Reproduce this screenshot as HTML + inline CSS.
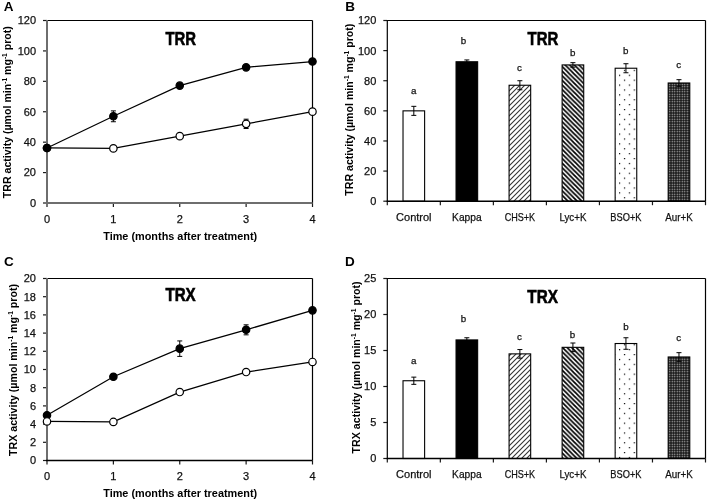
<!DOCTYPE html>
<html><head><meta charset="utf-8"><title>TRR / TRX activity</title>
<style>html,body{margin:0;padding:0;background:#fff;width:708px;height:502px;overflow:hidden;font-family:"Liberation Sans", sans-serif;}</style>
</head><body>
<svg width="708" height="502" viewBox="0 0 708 502" style="display:block;filter:grayscale(1)" font-family="Liberation Sans, sans-serif">
<defs>
<pattern id="hatchUp" patternUnits="userSpaceOnUse" width="5" height="5" patternTransform="rotate(0)">
<path d="M-1,1 l2,-2 M0,5 l5,-5 M4,6 l2,-2" stroke="#333" stroke-width="1.1"/>
</pattern>
<pattern id="hatchDn" patternUnits="userSpaceOnUse" width="4.6" height="4.6" y="1.2">
<path d="M-1.15,3.45 l2.3,2.3 M0,0 l4.6,4.6 M3.45,-1.15 l2.3,2.3" stroke="#000" stroke-width="1.7"/>
</pattern>
<pattern id="dots" patternUnits="userSpaceOnUse" width="9.8" height="9.8" x="619" y="123.7">
<rect x="0" y="0" width="1.2" height="1.2" fill="#000"/>
<rect x="4.9" y="4.9" width="1.2" height="1.2" fill="#000"/>
</pattern>
<pattern id="grid" patternUnits="userSpaceOnUse" width="2.5" height="2.5" x="668.5" y="83">
<rect width="2.5" height="2.5" fill="#080808"/>
<rect x="0.55" y="0.55" width="1.4" height="1.4" fill="#bdbdbd"/>
</pattern>
</defs>
<rect width="708" height="502" fill="#fff"/>
<text x="3.80" y="11.20" font-size="13.5" text-anchor="start" font-weight="bold" fill="#000" >A</text>
<text x="345.20" y="11.20" font-size="13.5" text-anchor="start" font-weight="bold" fill="#000" >B</text>
<text x="4.00" y="266.20" font-size="13.5" text-anchor="start" font-weight="bold" fill="#000" >C</text>
<text x="345.00" y="266.20" font-size="13.5" text-anchor="start" font-weight="bold" fill="#000" >D</text>
<line x1="47.00" y1="20.50" x2="312.50" y2="20.50" stroke="#000" stroke-width="1.2"/>
<line x1="312.50" y1="20.50" x2="312.50" y2="203.00" stroke="#000" stroke-width="1.2"/>
<line x1="43.00" y1="203.00" x2="47.00" y2="203.00" stroke="#1a1a1a" stroke-width="1.2"/>
<text x="36.00" y="206.90" font-size="11" text-anchor="end" font-weight="normal" fill="#111" stroke="#111" stroke-width="0.25" >0</text>
<line x1="43.00" y1="172.58" x2="47.00" y2="172.58" stroke="#1a1a1a" stroke-width="1.2"/>
<text x="36.00" y="176.48" font-size="11" text-anchor="end" font-weight="normal" fill="#111" stroke="#111" stroke-width="0.25" >20</text>
<line x1="43.00" y1="142.17" x2="47.00" y2="142.17" stroke="#1a1a1a" stroke-width="1.2"/>
<text x="36.00" y="146.07" font-size="11" text-anchor="end" font-weight="normal" fill="#111" stroke="#111" stroke-width="0.25" >40</text>
<line x1="43.00" y1="111.75" x2="47.00" y2="111.75" stroke="#1a1a1a" stroke-width="1.2"/>
<text x="36.00" y="115.65" font-size="11" text-anchor="end" font-weight="normal" fill="#111" stroke="#111" stroke-width="0.25" >60</text>
<line x1="43.00" y1="81.33" x2="47.00" y2="81.33" stroke="#1a1a1a" stroke-width="1.2"/>
<text x="36.00" y="85.23" font-size="11" text-anchor="end" font-weight="normal" fill="#111" stroke="#111" stroke-width="0.25" >80</text>
<line x1="43.00" y1="50.92" x2="47.00" y2="50.92" stroke="#1a1a1a" stroke-width="1.2"/>
<text x="36.00" y="54.82" font-size="11" text-anchor="end" font-weight="normal" fill="#111" stroke="#111" stroke-width="0.25" >100</text>
<line x1="43.00" y1="20.50" x2="47.00" y2="20.50" stroke="#1a1a1a" stroke-width="1.2"/>
<text x="36.00" y="24.40" font-size="11" text-anchor="end" font-weight="normal" fill="#111" stroke="#111" stroke-width="0.25" >120</text>
<line x1="47.00" y1="203.00" x2="47.00" y2="207.00" stroke="#1a1a1a" stroke-width="1.2"/>
<text x="47.00" y="222.70" font-size="11" text-anchor="middle" font-weight="normal" fill="#111" stroke="#111" stroke-width="0.25" >0</text>
<line x1="113.38" y1="203.00" x2="113.38" y2="207.00" stroke="#1a1a1a" stroke-width="1.2"/>
<text x="113.38" y="222.70" font-size="11" text-anchor="middle" font-weight="normal" fill="#111" stroke="#111" stroke-width="0.25" >1</text>
<line x1="179.75" y1="203.00" x2="179.75" y2="207.00" stroke="#1a1a1a" stroke-width="1.2"/>
<text x="179.75" y="222.70" font-size="11" text-anchor="middle" font-weight="normal" fill="#111" stroke="#111" stroke-width="0.25" >2</text>
<line x1="246.12" y1="203.00" x2="246.12" y2="207.00" stroke="#1a1a1a" stroke-width="1.2"/>
<text x="246.12" y="222.70" font-size="11" text-anchor="middle" font-weight="normal" fill="#111" stroke="#111" stroke-width="0.25" >3</text>
<line x1="312.50" y1="203.00" x2="312.50" y2="207.00" stroke="#1a1a1a" stroke-width="1.2"/>
<text x="312.50" y="222.70" font-size="11" text-anchor="middle" font-weight="normal" fill="#111" stroke="#111" stroke-width="0.25" >4</text>
<line x1="47.00" y1="19.90" x2="47.00" y2="204.00" stroke="#6e6e6e" stroke-width="2"/>
<line x1="46.00" y1="203.00" x2="312.50" y2="203.00" stroke="#6e6e6e" stroke-width="2"/>
<polyline points="47.00,147.95 113.38,148.40 179.75,136.16 246.12,123.84 312.50,111.64" fill="none" stroke="#000" stroke-width="1.25"/>
<polyline points="47.00,147.95 113.38,116.31 179.75,85.59 246.12,67.34 312.50,61.56" fill="none" stroke="#000" stroke-width="1.25"/>
<circle cx="47.00" cy="147.95" r="3.7" fill="#fff" stroke="#000" stroke-width="1.2"/>
<circle cx="113.38" cy="148.40" r="3.7" fill="#fff" stroke="#000" stroke-width="1.2"/>
<circle cx="179.75" cy="136.16" r="3.7" fill="#fff" stroke="#000" stroke-width="1.2"/>
<line x1="246.12" y1="119.19" x2="246.12" y2="128.49" stroke="#000" stroke-width="1"/>
<line x1="243.62" y1="119.19" x2="248.62" y2="119.19" stroke="#000" stroke-width="1"/>
<line x1="243.62" y1="128.49" x2="248.62" y2="128.49" stroke="#000" stroke-width="1"/>
<circle cx="246.12" cy="123.84" r="3.7" fill="#fff" stroke="#000" stroke-width="1.2"/>
<circle cx="312.50" cy="111.64" r="3.7" fill="#fff" stroke="#000" stroke-width="1.2"/>
<circle cx="47.00" cy="147.95" r="3.7" fill="#000" stroke="#000" stroke-width="1.2"/>
<line x1="113.38" y1="110.88" x2="113.38" y2="121.74" stroke="#000" stroke-width="1"/>
<line x1="110.88" y1="110.88" x2="115.88" y2="110.88" stroke="#000" stroke-width="1"/>
<line x1="110.88" y1="121.74" x2="115.88" y2="121.74" stroke="#000" stroke-width="1"/>
<circle cx="113.38" cy="116.31" r="3.7" fill="#000" stroke="#000" stroke-width="1.2"/>
<circle cx="179.75" cy="85.59" r="3.7" fill="#000" stroke="#000" stroke-width="1.2"/>
<circle cx="246.12" cy="67.34" r="3.7" fill="#000" stroke="#000" stroke-width="1.2"/>
<circle cx="312.50" cy="61.56" r="3.7" fill="#000" stroke="#000" stroke-width="1.2"/>
<text x="165.40" y="44.60" font-size="18.2" text-anchor="start" font-weight="bold" fill="#000" textLength="30.6" lengthAdjust="spacingAndGlyphs" stroke="#000" stroke-width="0.6">TRR</text>
<text x="103.20" y="239.80" font-size="11" text-anchor="start" font-weight="bold" fill="#000" textLength="154" lengthAdjust="spacingAndGlyphs" >Time (months after treatment)</text>
<text transform="translate(10.80,112.20) rotate(-90)" x="0" y="0" font-size="11" font-weight="bold" text-anchor="middle" fill="#000" textLength="172" lengthAdjust="spacingAndGlyphs">TRR activity (µmol min<tspan font-size="6.8" dy="-4">-1</tspan><tspan dy="4"> mg</tspan><tspan font-size="6.8" dy="-4">-1</tspan><tspan dy="4"> prot)</tspan></text>
<line x1="47.00" y1="278.50" x2="312.50" y2="278.50" stroke="#000" stroke-width="1.2"/>
<line x1="312.50" y1="278.50" x2="312.50" y2="460.50" stroke="#000" stroke-width="1.2"/>
<line x1="43.00" y1="460.50" x2="47.00" y2="460.50" stroke="#1a1a1a" stroke-width="1.2"/>
<text x="36.00" y="464.40" font-size="11" text-anchor="end" font-weight="normal" fill="#111" stroke="#111" stroke-width="0.25" >0</text>
<line x1="43.00" y1="442.30" x2="47.00" y2="442.30" stroke="#1a1a1a" stroke-width="1.2"/>
<text x="36.00" y="446.20" font-size="11" text-anchor="end" font-weight="normal" fill="#111" stroke="#111" stroke-width="0.25" >2</text>
<line x1="43.00" y1="424.10" x2="47.00" y2="424.10" stroke="#1a1a1a" stroke-width="1.2"/>
<text x="36.00" y="428.00" font-size="11" text-anchor="end" font-weight="normal" fill="#111" stroke="#111" stroke-width="0.25" >4</text>
<line x1="43.00" y1="405.90" x2="47.00" y2="405.90" stroke="#1a1a1a" stroke-width="1.2"/>
<text x="36.00" y="409.80" font-size="11" text-anchor="end" font-weight="normal" fill="#111" stroke="#111" stroke-width="0.25" >6</text>
<line x1="43.00" y1="387.70" x2="47.00" y2="387.70" stroke="#1a1a1a" stroke-width="1.2"/>
<text x="36.00" y="391.60" font-size="11" text-anchor="end" font-weight="normal" fill="#111" stroke="#111" stroke-width="0.25" >8</text>
<line x1="43.00" y1="369.50" x2="47.00" y2="369.50" stroke="#1a1a1a" stroke-width="1.2"/>
<text x="36.00" y="373.40" font-size="11" text-anchor="end" font-weight="normal" fill="#111" stroke="#111" stroke-width="0.25" >10</text>
<line x1="43.00" y1="351.30" x2="47.00" y2="351.30" stroke="#1a1a1a" stroke-width="1.2"/>
<text x="36.00" y="355.20" font-size="11" text-anchor="end" font-weight="normal" fill="#111" stroke="#111" stroke-width="0.25" >12</text>
<line x1="43.00" y1="333.10" x2="47.00" y2="333.10" stroke="#1a1a1a" stroke-width="1.2"/>
<text x="36.00" y="337.00" font-size="11" text-anchor="end" font-weight="normal" fill="#111" stroke="#111" stroke-width="0.25" >14</text>
<line x1="43.00" y1="314.90" x2="47.00" y2="314.90" stroke="#1a1a1a" stroke-width="1.2"/>
<text x="36.00" y="318.80" font-size="11" text-anchor="end" font-weight="normal" fill="#111" stroke="#111" stroke-width="0.25" >16</text>
<line x1="43.00" y1="296.70" x2="47.00" y2="296.70" stroke="#1a1a1a" stroke-width="1.2"/>
<text x="36.00" y="300.60" font-size="11" text-anchor="end" font-weight="normal" fill="#111" stroke="#111" stroke-width="0.25" >18</text>
<line x1="43.00" y1="278.50" x2="47.00" y2="278.50" stroke="#1a1a1a" stroke-width="1.2"/>
<text x="36.00" y="282.40" font-size="11" text-anchor="end" font-weight="normal" fill="#111" stroke="#111" stroke-width="0.25" >20</text>
<line x1="47.00" y1="460.50" x2="47.00" y2="464.50" stroke="#1a1a1a" stroke-width="1.2"/>
<text x="47.00" y="480.20" font-size="11" text-anchor="middle" font-weight="normal" fill="#111" stroke="#111" stroke-width="0.25" >0</text>
<line x1="113.38" y1="460.50" x2="113.38" y2="464.50" stroke="#1a1a1a" stroke-width="1.2"/>
<text x="113.38" y="480.20" font-size="11" text-anchor="middle" font-weight="normal" fill="#111" stroke="#111" stroke-width="0.25" >1</text>
<line x1="179.75" y1="460.50" x2="179.75" y2="464.50" stroke="#1a1a1a" stroke-width="1.2"/>
<text x="179.75" y="480.20" font-size="11" text-anchor="middle" font-weight="normal" fill="#111" stroke="#111" stroke-width="0.25" >2</text>
<line x1="246.12" y1="460.50" x2="246.12" y2="464.50" stroke="#1a1a1a" stroke-width="1.2"/>
<text x="246.12" y="480.20" font-size="11" text-anchor="middle" font-weight="normal" fill="#111" stroke="#111" stroke-width="0.25" >3</text>
<line x1="312.50" y1="460.50" x2="312.50" y2="464.50" stroke="#1a1a1a" stroke-width="1.2"/>
<text x="312.50" y="480.20" font-size="11" text-anchor="middle" font-weight="normal" fill="#111" stroke="#111" stroke-width="0.25" >4</text>
<line x1="47.00" y1="277.90" x2="47.00" y2="461.50" stroke="#6e6e6e" stroke-width="2"/>
<line x1="46.00" y1="460.50" x2="312.50" y2="460.50" stroke="#000" stroke-width="1.4"/>
<polyline points="47.00,421.46 113.38,421.92 179.75,392.07 246.12,372.05 312.50,361.95" fill="none" stroke="#000" stroke-width="1.25"/>
<polyline points="47.00,415.18 113.38,376.78 179.75,348.66 246.12,329.82 312.50,310.35" fill="none" stroke="#000" stroke-width="1.25"/>
<circle cx="47.00" cy="415.18" r="3.7" fill="#000" stroke="#000" stroke-width="1.2"/>
<circle cx="113.38" cy="376.78" r="3.7" fill="#000" stroke="#000" stroke-width="1.2"/>
<line x1="179.75" y1="340.93" x2="179.75" y2="356.40" stroke="#000" stroke-width="1"/>
<line x1="177.25" y1="340.93" x2="182.25" y2="340.93" stroke="#000" stroke-width="1"/>
<line x1="177.25" y1="356.40" x2="182.25" y2="356.40" stroke="#000" stroke-width="1"/>
<circle cx="179.75" cy="348.66" r="3.7" fill="#000" stroke="#000" stroke-width="1.2"/>
<line x1="246.12" y1="324.82" x2="246.12" y2="334.83" stroke="#000" stroke-width="1"/>
<line x1="243.62" y1="324.82" x2="248.62" y2="324.82" stroke="#000" stroke-width="1"/>
<line x1="243.62" y1="334.83" x2="248.62" y2="334.83" stroke="#000" stroke-width="1"/>
<circle cx="246.12" cy="329.82" r="3.7" fill="#000" stroke="#000" stroke-width="1.2"/>
<circle cx="312.50" cy="310.35" r="3.7" fill="#000" stroke="#000" stroke-width="1.2"/>
<circle cx="47.00" cy="421.46" r="3.7" fill="#fff" stroke="#000" stroke-width="1.2"/>
<line x1="113.38" y1="419.19" x2="113.38" y2="424.65" stroke="#000" stroke-width="1"/>
<line x1="110.88" y1="419.19" x2="115.88" y2="419.19" stroke="#000" stroke-width="1"/>
<line x1="110.88" y1="424.65" x2="115.88" y2="424.65" stroke="#000" stroke-width="1"/>
<circle cx="113.38" cy="421.92" r="3.7" fill="#fff" stroke="#000" stroke-width="1.2"/>
<circle cx="179.75" cy="392.07" r="3.7" fill="#fff" stroke="#000" stroke-width="1.2"/>
<circle cx="246.12" cy="372.05" r="3.7" fill="#fff" stroke="#000" stroke-width="1.2"/>
<line x1="312.50" y1="359.22" x2="312.50" y2="364.68" stroke="#000" stroke-width="1"/>
<line x1="310.00" y1="359.22" x2="315.00" y2="359.22" stroke="#000" stroke-width="1"/>
<line x1="310.00" y1="364.68" x2="315.00" y2="364.68" stroke="#000" stroke-width="1"/>
<circle cx="312.50" cy="361.95" r="3.7" fill="#fff" stroke="#000" stroke-width="1.2"/>
<text x="165.40" y="300.80" font-size="18.2" text-anchor="start" font-weight="bold" fill="#000" textLength="30.3" lengthAdjust="spacingAndGlyphs" stroke="#000" stroke-width="0.6">TRX</text>
<text x="103.20" y="497.30" font-size="11" text-anchor="start" font-weight="bold" fill="#000" textLength="154" lengthAdjust="spacingAndGlyphs" >Time (months after treatment)</text>
<text transform="translate(16.80,370.00) rotate(-90)" x="0" y="0" font-size="11" font-weight="bold" text-anchor="middle" fill="#000" textLength="172" lengthAdjust="spacingAndGlyphs">TRX activity (µmol min<tspan font-size="6.8" dy="-4">-1</tspan><tspan dy="4"> mg</tspan><tspan font-size="6.8" dy="-4">-1</tspan><tspan dy="4"> prot)</tspan></text>
<line x1="387.30" y1="20.50" x2="705.50" y2="20.50" stroke="#000" stroke-width="1.2"/>
<line x1="705.50" y1="20.50" x2="705.50" y2="201.20" stroke="#000" stroke-width="1.2"/>
<line x1="383.30" y1="201.20" x2="387.30" y2="201.20" stroke="#1a1a1a" stroke-width="1.2"/>
<text x="376.30" y="205.10" font-size="11" text-anchor="end" font-weight="normal" fill="#111" stroke="#111" stroke-width="0.25" >0</text>
<line x1="383.30" y1="171.08" x2="387.30" y2="171.08" stroke="#1a1a1a" stroke-width="1.2"/>
<text x="376.30" y="174.98" font-size="11" text-anchor="end" font-weight="normal" fill="#111" stroke="#111" stroke-width="0.25" >20</text>
<line x1="383.30" y1="140.97" x2="387.30" y2="140.97" stroke="#1a1a1a" stroke-width="1.2"/>
<text x="376.30" y="144.87" font-size="11" text-anchor="end" font-weight="normal" fill="#111" stroke="#111" stroke-width="0.25" >40</text>
<line x1="383.30" y1="110.85" x2="387.30" y2="110.85" stroke="#1a1a1a" stroke-width="1.2"/>
<text x="376.30" y="114.75" font-size="11" text-anchor="end" font-weight="normal" fill="#111" stroke="#111" stroke-width="0.25" >60</text>
<line x1="383.30" y1="80.73" x2="387.30" y2="80.73" stroke="#1a1a1a" stroke-width="1.2"/>
<text x="376.30" y="84.63" font-size="11" text-anchor="end" font-weight="normal" fill="#111" stroke="#111" stroke-width="0.25" >80</text>
<line x1="383.30" y1="50.62" x2="387.30" y2="50.62" stroke="#1a1a1a" stroke-width="1.2"/>
<text x="376.30" y="54.52" font-size="11" text-anchor="end" font-weight="normal" fill="#111" stroke="#111" stroke-width="0.25" >100</text>
<line x1="383.30" y1="20.50" x2="387.30" y2="20.50" stroke="#1a1a1a" stroke-width="1.2"/>
<text x="376.30" y="24.40" font-size="11" text-anchor="end" font-weight="normal" fill="#111" stroke="#111" stroke-width="0.25" >120</text>
<line x1="387.30" y1="201.20" x2="387.30" y2="205.20" stroke="#1a1a1a" stroke-width="1.2"/>
<line x1="440.33" y1="201.20" x2="440.33" y2="205.20" stroke="#1a1a1a" stroke-width="1.2"/>
<line x1="493.37" y1="201.20" x2="493.37" y2="205.20" stroke="#1a1a1a" stroke-width="1.2"/>
<line x1="546.40" y1="201.20" x2="546.40" y2="205.20" stroke="#1a1a1a" stroke-width="1.2"/>
<line x1="599.43" y1="201.20" x2="599.43" y2="205.20" stroke="#1a1a1a" stroke-width="1.2"/>
<line x1="652.47" y1="201.20" x2="652.47" y2="205.20" stroke="#1a1a1a" stroke-width="1.2"/>
<line x1="705.50" y1="201.20" x2="705.50" y2="205.20" stroke="#1a1a1a" stroke-width="1.2"/>
<rect x="403.02" y="110.85" width="21.60" height="90.35" fill="#fff" stroke="#000" stroke-width="1.1"/>
<line x1="413.82" y1="106.33" x2="413.82" y2="115.37" stroke="#000" stroke-width="1"/>
<line x1="411.32" y1="106.33" x2="416.32" y2="106.33" stroke="#000" stroke-width="1"/>
<line x1="411.32" y1="115.37" x2="416.32" y2="115.37" stroke="#000" stroke-width="1"/>
<text x="413.82" y="220.50" font-size="11" text-anchor="middle" font-weight="normal" fill="#111" stroke="#111" stroke-width="0.25" textLength="35.5" lengthAdjust="spacingAndGlyphs" >Control</text>
<text x="413.82" y="94.00" font-size="9.8" text-anchor="middle" font-weight="normal" fill="#111" stroke="#111" stroke-width="0.25" >a</text>
<rect x="456.05" y="61.76" width="21.60" height="139.44" fill="#000" stroke="#000" stroke-width="1.1"/>
<line x1="466.85" y1="59.95" x2="466.85" y2="63.57" stroke="#000" stroke-width="1"/>
<line x1="464.35" y1="59.95" x2="469.35" y2="59.95" stroke="#000" stroke-width="1"/>
<line x1="464.35" y1="63.57" x2="469.35" y2="63.57" stroke="#000" stroke-width="1"/>
<text x="466.85" y="220.50" font-size="11" text-anchor="middle" font-weight="normal" fill="#111" stroke="#111" stroke-width="0.25" textLength="29.5" lengthAdjust="spacingAndGlyphs" >Kappa</text>
<text x="463.45" y="44.30" font-size="9.8" text-anchor="middle" font-weight="normal" fill="#111" stroke="#111" stroke-width="0.25" >b</text>
<rect x="509.08" y="85.25" width="21.60" height="115.95" fill="url(#hatchUp)" stroke="#000" stroke-width="1.1"/>
<line x1="519.88" y1="80.73" x2="519.88" y2="89.77" stroke="#000" stroke-width="1"/>
<line x1="517.38" y1="80.73" x2="522.38" y2="80.73" stroke="#000" stroke-width="1"/>
<line x1="517.38" y1="89.77" x2="522.38" y2="89.77" stroke="#000" stroke-width="1"/>
<text x="519.88" y="220.50" font-size="11" text-anchor="middle" font-weight="normal" fill="#111" stroke="#111" stroke-width="0.25" textLength="30.5" lengthAdjust="spacingAndGlyphs" >CHS+K</text>
<text x="519.38" y="71.30" font-size="9.8" text-anchor="middle" font-weight="normal" fill="#111" stroke="#111" stroke-width="0.25" >c</text>
<rect x="562.12" y="64.92" width="21.60" height="136.28" fill="url(#hatchDn)" stroke="#000" stroke-width="1.1"/>
<line x1="572.92" y1="62.66" x2="572.92" y2="67.18" stroke="#000" stroke-width="1"/>
<line x1="570.42" y1="62.66" x2="575.42" y2="62.66" stroke="#000" stroke-width="1"/>
<line x1="570.42" y1="67.18" x2="575.42" y2="67.18" stroke="#000" stroke-width="1"/>
<text x="572.92" y="220.50" font-size="11" text-anchor="middle" font-weight="normal" fill="#111" stroke="#111" stroke-width="0.25" textLength="27" lengthAdjust="spacingAndGlyphs" >Lyc+K</text>
<text x="572.62" y="55.50" font-size="9.8" text-anchor="middle" font-weight="normal" fill="#111" stroke="#111" stroke-width="0.25" >b</text>
<rect x="615.15" y="68.23" width="21.60" height="132.97" fill="url(#dots)" stroke="#000" stroke-width="1.1"/>
<line x1="625.95" y1="63.72" x2="625.95" y2="72.75" stroke="#000" stroke-width="1"/>
<line x1="623.45" y1="63.72" x2="628.45" y2="63.72" stroke="#000" stroke-width="1"/>
<line x1="623.45" y1="72.75" x2="628.45" y2="72.75" stroke="#000" stroke-width="1"/>
<text x="625.95" y="220.50" font-size="11" text-anchor="middle" font-weight="normal" fill="#111" stroke="#111" stroke-width="0.25" textLength="31.2" lengthAdjust="spacingAndGlyphs" >BSO+K</text>
<text x="625.75" y="54.20" font-size="9.8" text-anchor="middle" font-weight="normal" fill="#111" stroke="#111" stroke-width="0.25" >b</text>
<rect x="668.18" y="82.99" width="21.60" height="118.21" fill="url(#grid)" stroke="#000" stroke-width="1.1"/>
<line x1="678.98" y1="79.68" x2="678.98" y2="86.30" stroke="#000" stroke-width="1"/>
<line x1="676.48" y1="79.68" x2="681.48" y2="79.68" stroke="#000" stroke-width="1"/>
<line x1="676.48" y1="86.30" x2="681.48" y2="86.30" stroke="#000" stroke-width="1"/>
<text x="678.98" y="220.50" font-size="11" text-anchor="middle" font-weight="normal" fill="#111" stroke="#111" stroke-width="0.25" textLength="27.5" lengthAdjust="spacingAndGlyphs" >Aur+K</text>
<text x="678.78" y="67.50" font-size="9.8" text-anchor="middle" font-weight="normal" fill="#111" stroke="#111" stroke-width="0.25" >c</text>
<line x1="387.30" y1="19.90" x2="387.30" y2="201.80" stroke="#000" stroke-width="1.2"/>
<line x1="386.70" y1="201.20" x2="705.50" y2="201.20" stroke="#000" stroke-width="1.4"/>
<text x="527.60" y="45.40" font-size="18.2" text-anchor="start" font-weight="bold" fill="#000" textLength="30.700000000000003" lengthAdjust="spacingAndGlyphs" stroke="#000" stroke-width="0.6">TRR</text>
<text transform="translate(353.20,109.70) rotate(-90)" x="0" y="0" font-size="11" font-weight="bold" text-anchor="middle" fill="#000" textLength="172" lengthAdjust="spacingAndGlyphs">TRR activity (µmol min<tspan font-size="6.8" dy="-4">-1</tspan><tspan dy="4"> mg</tspan><tspan font-size="6.8" dy="-4">-1</tspan><tspan dy="4"> prot)</tspan></text>
<line x1="387.30" y1="278.50" x2="705.50" y2="278.50" stroke="#000" stroke-width="1.2"/>
<line x1="705.50" y1="278.50" x2="705.50" y2="458.50" stroke="#000" stroke-width="1.2"/>
<line x1="383.30" y1="458.50" x2="387.30" y2="458.50" stroke="#1a1a1a" stroke-width="1.2"/>
<text x="376.30" y="462.40" font-size="11" text-anchor="end" font-weight="normal" fill="#111" stroke="#111" stroke-width="0.25" >0</text>
<line x1="383.30" y1="422.50" x2="387.30" y2="422.50" stroke="#1a1a1a" stroke-width="1.2"/>
<text x="376.30" y="426.40" font-size="11" text-anchor="end" font-weight="normal" fill="#111" stroke="#111" stroke-width="0.25" >5</text>
<line x1="383.30" y1="386.50" x2="387.30" y2="386.50" stroke="#1a1a1a" stroke-width="1.2"/>
<text x="376.30" y="390.40" font-size="11" text-anchor="end" font-weight="normal" fill="#111" stroke="#111" stroke-width="0.25" >10</text>
<line x1="383.30" y1="350.50" x2="387.30" y2="350.50" stroke="#1a1a1a" stroke-width="1.2"/>
<text x="376.30" y="354.40" font-size="11" text-anchor="end" font-weight="normal" fill="#111" stroke="#111" stroke-width="0.25" >15</text>
<line x1="383.30" y1="314.50" x2="387.30" y2="314.50" stroke="#1a1a1a" stroke-width="1.2"/>
<text x="376.30" y="318.40" font-size="11" text-anchor="end" font-weight="normal" fill="#111" stroke="#111" stroke-width="0.25" >20</text>
<line x1="383.30" y1="278.50" x2="387.30" y2="278.50" stroke="#1a1a1a" stroke-width="1.2"/>
<text x="376.30" y="282.40" font-size="11" text-anchor="end" font-weight="normal" fill="#111" stroke="#111" stroke-width="0.25" >25</text>
<line x1="387.30" y1="458.50" x2="387.30" y2="462.50" stroke="#1a1a1a" stroke-width="1.2"/>
<line x1="440.33" y1="458.50" x2="440.33" y2="462.50" stroke="#1a1a1a" stroke-width="1.2"/>
<line x1="493.37" y1="458.50" x2="493.37" y2="462.50" stroke="#1a1a1a" stroke-width="1.2"/>
<line x1="546.40" y1="458.50" x2="546.40" y2="462.50" stroke="#1a1a1a" stroke-width="1.2"/>
<line x1="599.43" y1="458.50" x2="599.43" y2="462.50" stroke="#1a1a1a" stroke-width="1.2"/>
<line x1="652.47" y1="458.50" x2="652.47" y2="462.50" stroke="#1a1a1a" stroke-width="1.2"/>
<line x1="705.50" y1="458.50" x2="705.50" y2="462.50" stroke="#1a1a1a" stroke-width="1.2"/>
<rect x="403.02" y="380.74" width="21.60" height="77.76" fill="#fff" stroke="#000" stroke-width="1.1"/>
<line x1="413.82" y1="377.14" x2="413.82" y2="384.34" stroke="#000" stroke-width="1"/>
<line x1="411.32" y1="377.14" x2="416.32" y2="377.14" stroke="#000" stroke-width="1"/>
<line x1="411.32" y1="384.34" x2="416.32" y2="384.34" stroke="#000" stroke-width="1"/>
<text x="413.82" y="477.80" font-size="11" text-anchor="middle" font-weight="normal" fill="#111" stroke="#111" stroke-width="0.25" textLength="35.5" lengthAdjust="spacingAndGlyphs" >Control</text>
<text x="413.82" y="364.00" font-size="9.8" text-anchor="middle" font-weight="normal" fill="#111" stroke="#111" stroke-width="0.25" >a</text>
<rect x="456.05" y="339.92" width="21.60" height="118.58" fill="#000" stroke="#000" stroke-width="1.1"/>
<line x1="466.85" y1="337.76" x2="466.85" y2="342.08" stroke="#000" stroke-width="1"/>
<line x1="464.35" y1="337.76" x2="469.35" y2="337.76" stroke="#000" stroke-width="1"/>
<line x1="464.35" y1="342.08" x2="469.35" y2="342.08" stroke="#000" stroke-width="1"/>
<text x="466.85" y="477.80" font-size="11" text-anchor="middle" font-weight="normal" fill="#111" stroke="#111" stroke-width="0.25" textLength="29.5" lengthAdjust="spacingAndGlyphs" >Kappa</text>
<text x="463.45" y="321.80" font-size="9.8" text-anchor="middle" font-weight="normal" fill="#111" stroke="#111" stroke-width="0.25" >b</text>
<rect x="509.08" y="353.88" width="21.60" height="104.62" fill="url(#hatchUp)" stroke="#000" stroke-width="1.1"/>
<line x1="519.88" y1="349.56" x2="519.88" y2="358.20" stroke="#000" stroke-width="1"/>
<line x1="517.38" y1="349.56" x2="522.38" y2="349.56" stroke="#000" stroke-width="1"/>
<line x1="517.38" y1="358.20" x2="522.38" y2="358.20" stroke="#000" stroke-width="1"/>
<text x="519.88" y="477.80" font-size="11" text-anchor="middle" font-weight="normal" fill="#111" stroke="#111" stroke-width="0.25" textLength="30.5" lengthAdjust="spacingAndGlyphs" >CHS+K</text>
<text x="519.38" y="340.00" font-size="9.8" text-anchor="middle" font-weight="normal" fill="#111" stroke="#111" stroke-width="0.25" >c</text>
<rect x="562.12" y="347.33" width="21.60" height="111.17" fill="url(#hatchDn)" stroke="#000" stroke-width="1.1"/>
<line x1="572.92" y1="343.01" x2="572.92" y2="351.65" stroke="#000" stroke-width="1"/>
<line x1="570.42" y1="343.01" x2="575.42" y2="343.01" stroke="#000" stroke-width="1"/>
<line x1="570.42" y1="351.65" x2="575.42" y2="351.65" stroke="#000" stroke-width="1"/>
<text x="572.92" y="477.80" font-size="11" text-anchor="middle" font-weight="normal" fill="#111" stroke="#111" stroke-width="0.25" textLength="27" lengthAdjust="spacingAndGlyphs" >Lyc+K</text>
<text x="572.42" y="338.40" font-size="9.8" text-anchor="middle" font-weight="normal" fill="#111" stroke="#111" stroke-width="0.25" >b</text>
<rect x="615.15" y="343.52" width="21.60" height="114.98" fill="url(#dots)" stroke="#000" stroke-width="1.1"/>
<line x1="625.95" y1="337.76" x2="625.95" y2="349.28" stroke="#000" stroke-width="1"/>
<line x1="623.45" y1="337.76" x2="628.45" y2="337.76" stroke="#000" stroke-width="1"/>
<line x1="623.45" y1="349.28" x2="628.45" y2="349.28" stroke="#000" stroke-width="1"/>
<text x="625.95" y="477.80" font-size="11" text-anchor="middle" font-weight="normal" fill="#111" stroke="#111" stroke-width="0.25" textLength="31.2" lengthAdjust="spacingAndGlyphs" >BSO+K</text>
<text x="625.95" y="329.60" font-size="9.8" text-anchor="middle" font-weight="normal" fill="#111" stroke="#111" stroke-width="0.25" >b</text>
<rect x="668.18" y="356.98" width="21.60" height="101.52" fill="url(#grid)" stroke="#000" stroke-width="1.1"/>
<line x1="678.98" y1="352.66" x2="678.98" y2="361.30" stroke="#000" stroke-width="1"/>
<line x1="676.48" y1="352.66" x2="681.48" y2="352.66" stroke="#000" stroke-width="1"/>
<line x1="676.48" y1="361.30" x2="681.48" y2="361.30" stroke="#000" stroke-width="1"/>
<text x="678.98" y="477.80" font-size="11" text-anchor="middle" font-weight="normal" fill="#111" stroke="#111" stroke-width="0.25" textLength="27.5" lengthAdjust="spacingAndGlyphs" >Aur+K</text>
<text x="678.78" y="341.30" font-size="9.8" text-anchor="middle" font-weight="normal" fill="#111" stroke="#111" stroke-width="0.25" >c</text>
<line x1="387.30" y1="277.90" x2="387.30" y2="459.10" stroke="#000" stroke-width="1.2"/>
<line x1="386.70" y1="458.50" x2="705.50" y2="458.50" stroke="#000" stroke-width="1.4"/>
<text x="527.30" y="302.80" font-size="18.2" text-anchor="start" font-weight="bold" fill="#000" textLength="30.6" lengthAdjust="spacingAndGlyphs" stroke="#000" stroke-width="0.6">TRX</text>
<text transform="translate(360.00,367.40) rotate(-90)" x="0" y="0" font-size="11" font-weight="bold" text-anchor="middle" fill="#000" textLength="172" lengthAdjust="spacingAndGlyphs">TRX activity (µmol min<tspan font-size="6.8" dy="-4">-1</tspan><tspan dy="4"> mg</tspan><tspan font-size="6.8" dy="-4">-1</tspan><tspan dy="4"> prot)</tspan></text>
</svg>
</body></html>
